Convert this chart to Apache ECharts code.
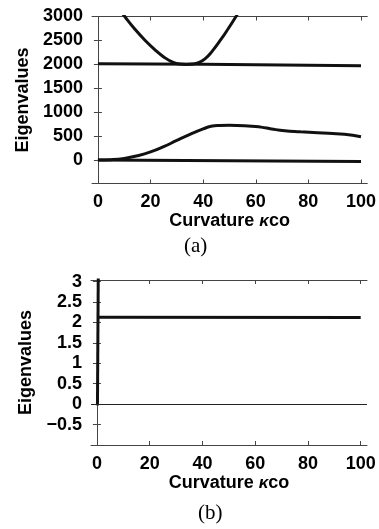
<!DOCTYPE html>
<html>
<head>
<meta charset="utf-8">
<script src="https://cdn.jsdelivr.net/npm/echarts@6/dist/echarts.min.js"></script>
<style>
html,body{margin:0;padding:0;background:#fff;}
#c{width:379px;height:529px;}
</style>
</head>
<body>
<div id="c"></div>
<script>
// ---- data ----
const xTicks = [0, 20, 40, 60, 80, 100];
const yTicksA = [0, 500, 1000, 1500, 2000, 2500, 3000];
const yTicksB = [-0.5, 0, 0.5, 1, 1.5, 2, 2.5, 3];

// panel (a)
const zeroModeX = [0, 50, 100];
const zeroModeY = [0, -15, -30];
const flatModeX = [0, 40, 100];
const flatModeY = [2015, 2000, 1970];
const risingX = [0, 5, 10, 15, 20, 25, 30, 35, 40, 43, 46, 50, 55.7, 62, 66, 71, 77, 83.5, 93.7, 100];
const risingY = [0, 8, 35, 90, 170, 280, 410, 535, 650, 705, 722, 725, 718, 688, 650, 612, 590, 570, 537, 487];
const parabX = [8, 10.2, 14, 17.8, 21.6, 25.4, 28.6, 31, 33.5, 36, 38.7, 41, 43.1, 46.9, 49.7, 52.6, 55];
const parabY = [3160, 3000, 2740, 2510, 2310, 2140, 2040, 2005, 1998, 2008, 2045, 2130, 2250, 2530, 2760, 3010, 3220];

// panel (b)
const vertBX = [0.2, 0.5];
const vertBY = [-0.03, 3.1];
const flatBX = [0.3, 100];
const flatBY = [2.13, 2.12];

const pairs = (xs, ys) => xs.map((x, i) => [x, ys[i]]);

const FONT = '"Liberation Sans", Arial, sans-serif';
const lineCol = '#111';
const frameCol = '#444';

function xAx(grid, pos, show) {
  return {
    type: 'value', gridIndex: grid, position: pos, min: -2.25, max: 102.4,
    axisLine: { show: true, onZero: false, lineStyle: { color: frameCol, width: 1 } },
    axisTick: { show: true, inside: true, length: 4, customValues: xTicks, lineStyle: { color: frameCol } },
    axisLabel: show ? { show: true, customValues: xTicks, margin: 10, fontFamily: FONT, fontSize: 18, fontWeight: 'bold', color: '#000' } : { show: false },
    splitLine: { show: false },
    name: show ? 'Curvature {k|κ}co' : '',
    nameLocation: 'middle', nameGap: 23,
    nameTextStyle: { fontFamily: FONT, fontSize: 18, fontWeight: 'bold', color: '#000',
      rich: { k: { fontFamily: FONT, fontSize: 17, fontStyle: 'italic', fontWeight: 'bold', color: '#000' } } }
  };
}
function yAx(grid, pos, show, min, max, ticks) {
  return {
    type: 'value', gridIndex: grid, position: pos, min: min, max: max,
    axisLine: { show: true, lineStyle: { color: frameCol, width: 1 } },
    axisTick: { show: true, inside: true, length: 4, customValues: ticks, lineStyle: { color: frameCol } },
    axisLabel: show ? { show: true, customValues: ticks, margin: 9, fontFamily: FONT, fontSize: 18, fontWeight: 'bold', color: '#000',
      formatter: v => v < 0 ? '\u2212' + Math.abs(v) : String(v) } : { show: false },
    splitLine: { show: false },
    name: show ? 'Eigenvalues' : '',
    nameLocation: 'middle', nameGap: 56,
    nameTextStyle: { fontFamily: FONT, fontSize: 18, fontWeight: 'bold', color: '#000' }
  };
}

const ls = { color: lineCol, width: 3 };
function ser(x, y, data, smooth, extra) {
  return Object.assign({
    type: 'line', xAxisIndex: x, yAxisIndex: y, data: data, showSymbol: false, symbol: 'none',
    smooth: smooth, lineStyle: ls, clip: true, silent: true, animation: false
  }, extra || {});
}

const option = {
  animation: false,
  backgroundColor: '#fff',
  grid: [
    { left: 92, top: 16.5, width: 276, height: 167 },
    { left: 91, top: 280, width: 276, height: 165 }
  ],
  xAxis: [xAx(0, 'bottom', true), xAx(0, 'top', false), xAx(1, 'bottom', true), xAx(1, 'top', false)],
  yAxis: [
    yAx(0, 'left', true, -490, 3000, yTicksA), yAx(0, 'right', false, -490, 3000, yTicksA),
    yAx(1, 'left', true, -1, 3.04, yTicksB), yAx(1, 'right', false, -1, 3.04, yTicksB)
  ],
  series: [
    ser(0, 0, pairs(zeroModeX, zeroModeY), false),
    ser(0, 0, pairs(flatModeX, flatModeY), false),
    ser(0, 0, pairs(risingX, risingY), 0.5),
    ser(0, 0, pairs(parabX, parabY), 0.5),
    ser(2, 2, pairs(vertBX, vertBY), false),
    ser(2, 2, pairs(flatBX, flatBY), false, {
      markLine: { silent: true, symbol: 'none', animation: false, label: { show: false },
        lineStyle: { color: '#222', width: 1, type: 'solid' }, data: [{ yAxis: 0 }] }
    })
  ],
  graphic: [
    { type: 'text', left: 184, top: 236, style: { text: '(a)', font: '21px "Liberation Serif", "Times New Roman", serif', fill: '#000' } },
    { type: 'text', left: 198, top: 503, style: { text: '(b)', font: '21px "Liberation Serif", "Times New Roman", serif', fill: '#000' } }
  ]
};

const chart = echarts.init(document.getElementById('c'), null, { renderer: 'canvas' });
chart.setOption(option);
</script>
</body>
</html>
